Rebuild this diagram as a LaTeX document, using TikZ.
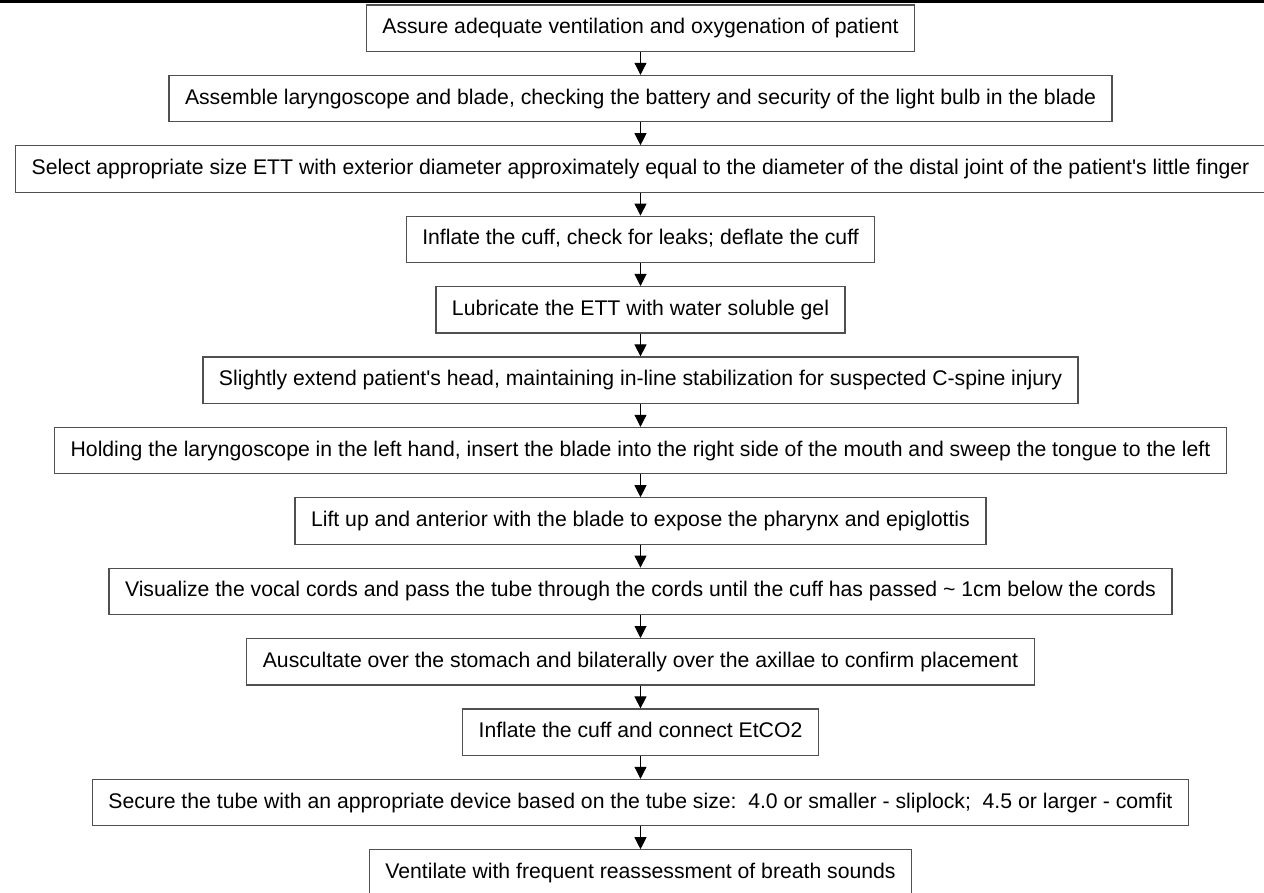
\documentclass[tikz,border=0pt]{standalone}
\usepackage{fontspec}
\setmainfont{Liberation Sans}
\usepackage{tikz}
\usetikzlibrary{positioning,arrows.meta}
\definecolor{boxline}{RGB}{80,80,80}

\begin{document}
\begin{tikzpicture}[
  stepbox/.style={draw=boxline, line width=0.6pt, rectangle, inner xsep=8pt,
    minimum height=23.2pt, text height=7.8pt, text depth=2.3pt,
    font=\fontsize{10.6}{12}\selectfont},
  arrow/.style={draw=black, line width=0.5pt, -{Triangle[width=6pt,length=6pt]}},
  node distance=11.4pt
]
\useasboundingbox (0,0) rectangle (632pt,-446.5pt);
\draw[line width=1.6pt] (0,-0.8pt) -- (632pt,-0.8pt);
\node[stepbox] (s1) at (320.25pt,-14.1pt) {Assure adequate ventilation and oxygenation of patient};
\node[stepbox, below=of s1] (s2) {Assemble laryngoscope and blade, checking the battery and security of the light bulb in the blade};
\node[stepbox, below=of s2] (s3) {Select appropriate size ETT with exterior diameter approximately equal to the diameter of the distal joint of the patient\textquotesingle s little finger};
\node[stepbox, below=of s3] (s4) {Inflate the cuff, check for leaks; deflate the cuff};
\node[stepbox, below=of s4] (s5) {Lubricate the ETT with water soluble gel};
\node[stepbox, below=of s5] (s6) {Slightly extend patient\textquotesingle s head, maintaining in-line stabilization for suspected C-spine injury};
\node[stepbox, below=of s6] (s7) {Holding the laryngoscope in the left hand, insert the blade into the right side of the mouth and sweep the tongue to the left};
\node[stepbox, below=of s7] (s8) {Lift up and anterior with the blade to expose the pharynx and epiglottis};
\node[stepbox, below=of s8] (s9) {Visualize the vocal cords and pass the tube through the cords until the cuff has passed \textasciitilde{} 1cm below the cords};
\node[stepbox, below=of s9] (s10) {Auscultate over the stomach and bilaterally over the axillae to confirm placement};
\node[stepbox, below=of s10] (s11) {Inflate the cuff and connect EtCO2};
\node[stepbox, below=of s11] (s12) {Secure the tube with an appropriate device based on the tube size:\ \ 4.0 or smaller - sliplock;\ \ 4.5 or larger - comfit};
\node[stepbox, below=of s12] (s13) {Ventilate with frequent reassessment of breath sounds};
\foreach \a/\b in {s1/s2,s2/s3,s3/s4,s4/s5,s5/s6,s6/s7,s7/s8,s8/s9,s9/s10,s10/s11,s11/s12,s12/s13}
  \draw[arrow] (\a) -- (\b);
\end{tikzpicture}
\end{document}
